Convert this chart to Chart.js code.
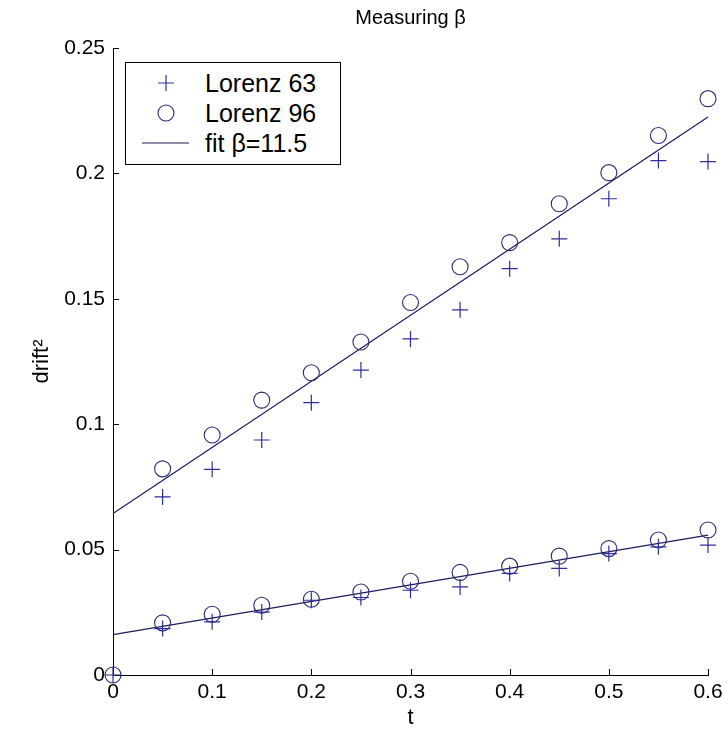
<!DOCTYPE html>
<html>
<head>
<meta charset="utf-8">
<script src="https://cdn.jsdelivr.net/npm/chart.js@4/dist/chart.umd.min.js"></script>
<style>
html,body{margin:0;padding:0;background:#fff;}
#wrap{position:relative;width:728px;height:740px;}
#legend{position:absolute;left:125px;top:62px;width:216px;height:103px;border:1px solid #000;background:#fff;box-sizing:border-box;font-family:"Liberation Sans",Arial,Helvetica,sans-serif;font-size:25px;color:#000;}
#legend .row{position:absolute;left:0;width:100%;height:30px;}
#legend svg{position:absolute;left:0;top:0;}
#legend .txt{position:absolute;left:79px;top:0;height:30px;line-height:30px;white-space:nowrap;}
</style>
</head>
<body>
<div id="wrap">
<canvas id="c" width="728" height="740"></canvas>
<div id="legend"></div>
</div>
<script>
// ---- data ----
const tUpper = [0.05,0.1,0.15,0.2,0.25,0.3,0.35,0.4,0.45,0.5,0.55,0.6];
const lorenz63Upper = [0.0710,0.0820,0.0937,0.1086,0.1216,0.1340,0.1456,0.1620,0.1739,0.1899,0.2051,0.2047];
const lorenz96Upper = [0.0822,0.0957,0.1096,0.1205,0.1328,0.1485,0.1628,0.1724,0.1879,0.2003,0.2151,0.2298];
const tLower = [0,0.05,0.1,0.15,0.2,0.25,0.3,0.35,0.4,0.45,0.5,0.55,0.6];
const lorenz63Lower = [0,0.0185,0.0212,0.0251,0.0298,0.0309,0.0338,0.0351,0.0405,0.0425,0.0484,0.0511,0.0518];
const lorenz96Lower = [0,0.0208,0.0242,0.0278,0.0302,0.0331,0.0374,0.0409,0.0434,0.0474,0.0504,0.0538,0.0578];
const tFit = [0,0.6];
const fitUpper = [0.0644,0.2225];
const fitLower = [0.0161,0.0558];
const xTickValues = [0,0.1,0.2,0.3,0.4,0.5,0.6];
const xTickLabels = ['0','0.1','0.2','0.3','0.4','0.5','0.6'];
const yTickValues = [0,0.05,0.1,0.15,0.2,0.25];
const yTickLabels = ['0','0.05','0.1','0.15','0.2','0.25'];
const seriesLabels = ['Lorenz 63','Lorenz 96','fit \u03b2=11.5'];

const FONT = '"Liberation Sans", Arial, Helvetica, sans-serif';
const plusColor = '#2e2e9e';
const circColor = '#2a2a72';
const lineColor = '#1c1c5e';

const pts = (xs, ys) => xs.map((x,i)=>({x:x, y:ys[i]}));

const plusStyle = {type:'scatter', pointStyle:'cross', pointRadius:8, pointBorderWidth:1.2,
  borderColor:plusColor, backgroundColor:plusColor, showLine:false, clip:false};
const circStyle = {type:'scatter', pointStyle:'circle', pointRadius:8, pointBorderWidth:1.1,
  borderColor:circColor, backgroundColor:'rgba(0,0,0,0)', showLine:false, clip:false};
const lineStyle = {type:'scatter', showLine:true, pointRadius:0, borderWidth:1.2,
  borderColor:lineColor, backgroundColor:lineColor, clip:false};

const datasets = [
  Object.assign({label:seriesLabels[0], data:pts(tUpper,lorenz63Upper), legend:true}, plusStyle),
  Object.assign({label:seriesLabels[1], data:pts(tUpper,lorenz96Upper), legend:true}, circStyle),
  Object.assign({label:seriesLabels[2], data:pts(tFit,fitUpper), legend:true}, lineStyle),
  Object.assign({label:seriesLabels[0], data:pts(tLower,lorenz63Lower), legend:false}, plusStyle),
  Object.assign({label:seriesLabels[1], data:pts(tLower,lorenz96Lower), legend:false}, circStyle),
  Object.assign({label:seriesLabels[2], data:pts(tFit,fitLower), legend:false}, lineStyle)
];

const inwardTicks = {
  id:'inwardTicks',
  beforeDatasetsDraw(chart){
    const {ctx, chartArea:a, scales:{x,y}} = chart;
    ctx.save();
    ctx.strokeStyle = '#000';
    ctx.lineWidth = 1;
    x.ticks.forEach(t=>{
      const px = Math.round(x.getPixelForValue(t.value)) + 0.5;
      ctx.beginPath(); ctx.moveTo(px, a.bottom); ctx.lineTo(px, a.bottom - 6); ctx.stroke();
    });
    y.ticks.forEach(t=>{
      const py = Math.round(y.getPixelForValue(t.value)) + 0.5;
      ctx.beginPath(); ctx.moveTo(a.left, py); ctx.lineTo(a.left + 6, py); ctx.stroke();
    });
    ctx.restore();
  }
};

const chart = new Chart(document.getElementById('c'), {
  type:'scatter',
  data:{datasets:datasets},
  plugins:[inwardTicks],
  options:{
    responsive:false,
    animation:false,
    layout:{padding:{left:0,right:20,top:0,bottom:0}},
    plugins:{legend:{display:false}, title:{display:false}, tooltip:{enabled:false}},
    scales:{
      x:{
        type:'linear', position:'bottom', min:0, max:0.6,
        afterBuildTicks:s=>{ s.ticks = xTickValues.map(v=>({value:v})); },
        afterFit:s=>{ s.height = 65; },
        grid:{display:true, drawOnChartArea:false, drawTicks:false},
        border:{display:true, color:'#000', width:1},
        ticks:{color:'#000', padding:5, maxRotation:0, autoSkip:false,
          font:{family:FONT, size:21}, callback:(v,i)=>xTickLabels[i]},
        title:{display:true, text:'t', color:'#000', font:{family:FONT, size:22},
          padding:{top:0,bottom:9}}
      },
      x2:{
        type:'linear', position:'top', min:0, max:0.6,
        afterFit:s=>{ s.height = 48; },
        grid:{display:false}, border:{display:false},
        ticks:{display:false},
        title:{display:true, text:'Measuring \u03b2', color:'#000', font:{family:FONT, size:20},
          padding:{top:6,bottom:0}}
      },
      y:{
        type:'linear', position:'left', min:0, max:0.25,
        afterBuildTicks:s=>{ s.ticks = yTickValues.map(v=>({value:v})); },
        afterFit:s=>{ s.width = 113; },
        grid:{display:true, drawOnChartArea:false, drawTicks:false},
        border:{display:true, color:'#000', width:1},
        ticks:{color:'#000', padding:8, autoSkip:false,
          font:{family:FONT, size:21}, callback:(v,i)=>yTickLabels[i]},
        title:{display:true, text:'drift\u00b2', color:'#000', font:{family:FONT, size:22},
          padding:{top:29,bottom:0}}
      }
    }
  }
});

// HTML legend built from the chart's datasets
(function(){
  const box = document.getElementById('legend');
  const rowCenters = [20,50,80];
  chart.data.datasets.filter(d=>d.legend).forEach((d,i)=>{
    const row = document.createElement('div');
    row.className = 'row';
    row.style.top = (rowCenters[i]-15) + 'px';
    let svg = '<svg width="80" height="30" viewBox="0 0 80 30">';
    if (d.pointStyle === 'cross' && !d.showLine) {
      svg += '<path d="M40 7 V23 M32 15 H48" stroke="'+d.borderColor+'" stroke-width="1.2" fill="none"/>';
    } else if (d.pointStyle === 'circle' && !d.showLine) {
      svg += '<circle cx="40" cy="15" r="8" stroke="'+d.borderColor+'" stroke-width="1.1" fill="none"/>';
    } else {
      svg += '<path d="M16 15 H63" stroke="'+d.borderColor+'" stroke-width="1.2" fill="none"/>';
    }
    svg += '</svg>';
    row.innerHTML = svg + '<span class="txt"></span>';
    row.querySelector('.txt').textContent = d.label;
    box.appendChild(row);
  });
})();
</script>
</body>
</html>
